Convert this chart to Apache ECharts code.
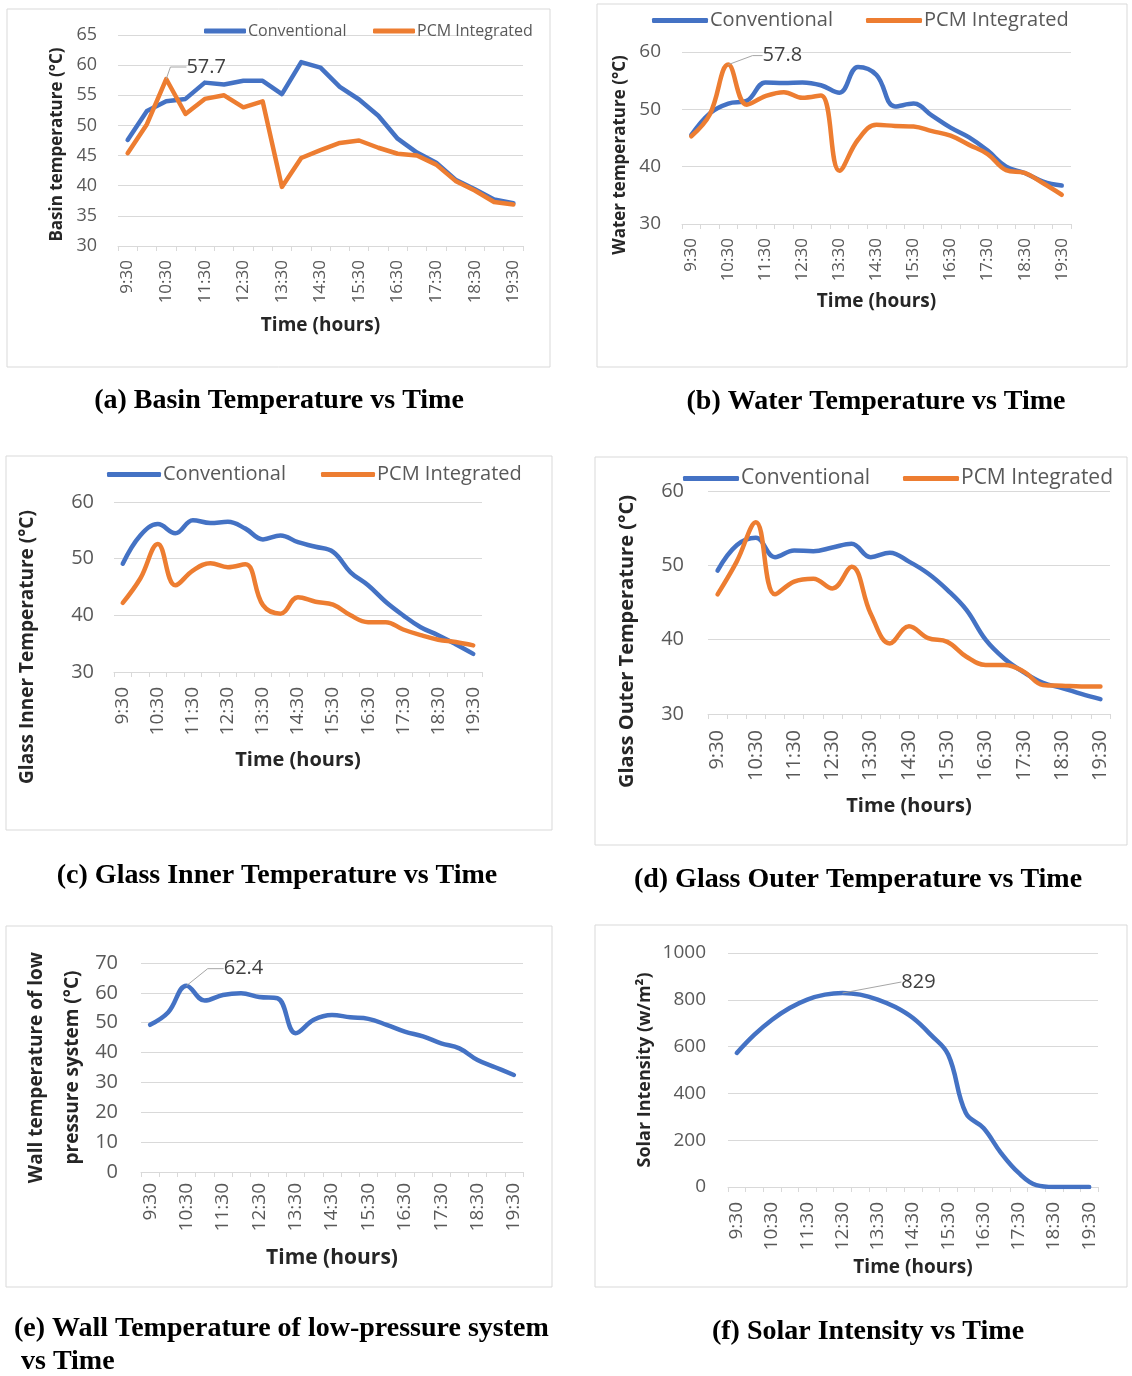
<!DOCTYPE html>
<html>
<head>
<meta charset="utf-8">
<script src="https://cdn.jsdelivr.net/npm/echarts@6/dist/echarts.min.js"></script>
<style>
html,body{margin:0;padding:0;background:#fff;}
#c{width:1132px;height:1376px;}
</style>
</head>
<body>
<div id="c"></div>
<script>
// ---- Data ----
const times = ['9:30','10:00','10:30','11:00','11:30','12:00','12:30','13:00','13:30','14:00','14:30','15:00','15:30','16:00','16:30','17:00','17:30','18:00','18:30','19:00','19:30'];
const seriesNames = ['Conventional', 'PCM Integrated'];

const basinConv = [47.6, 52.4, 54.0, 54.4, 57.1, 56.8, 57.4, 57.4, 55.2, 60.5, 59.6, 56.4, 54.3, 51.6, 47.8, 45.5, 43.8, 41.0, 39.4, 37.7, 37.1];
const basinPCM  = [45.4, 50.2, 57.7, 51.9, 54.4, 55.0, 53.0, 54.0, 39.8, 44.6, 45.9, 47.1, 47.5, 46.3, 45.3, 45.0, 43.5, 40.8, 39.2, 37.3, 36.9];

const waterConv = [45.5, 49.3, 51.0, 51.5, 54.7, 54.6, 54.7, 54.2, 52.9, 57.4, 56.0, 50.5, 51.0, 48.9, 46.8, 45.1, 42.8, 40.0, 38.9, 37.4, 36.7];
const waterPCM  = [45.3, 49.1, 57.8, 50.8, 52.3, 53.0, 52.0, 52.4, 39.3, 44.7, 47.3, 47.1, 47.0, 46.2, 45.4, 43.8, 42.2, 39.4, 38.9, 37.1, 35.1];

const glassInConv = [49.1, 54.1, 56.1, 54.5, 56.8, 56.3, 56.5, 55.3, 53.4, 54.1, 52.9, 52.1, 51.2, 47.6, 45.3, 42.4, 40.0, 37.9, 36.5, 34.9, 33.2];
const glassInPCM  = [42.2, 46.5, 52.6, 45.3, 47.9, 49.2, 48.5, 49.0, 41.8, 40.3, 43.2, 42.4, 41.9, 40.0, 38.8, 38.8, 37.5, 36.5, 35.7, 35.3, 34.7];

const glassOutConv = [49.3, 52.7, 53.7, 51.1, 52.0, 51.9, 52.4, 52.9, 51.1, 51.7, 50.5, 48.9, 46.7, 44.0, 40.0, 37.4, 35.6, 34.2, 33.5, 32.7, 32.0];
const glassOutPCM  = [46.1, 50.5, 55.8, 46.1, 47.8, 48.2, 46.9, 49.8, 43.5, 39.5, 41.8, 40.2, 39.7, 37.7, 36.6, 36.6, 35.7, 33.9, 33.8, 33.7, 33.7];

const wallTemp = [49.3, 53.5, 62.4, 57.4, 59.3, 59.9, 58.6, 58.2, 46.5, 51.0, 52.6, 51.8, 51.3, 49.3, 47.0, 45.4, 43.1, 41.4, 37.5, 35.0, 32.5];

const solar = [573, 651, 715, 765, 801, 822, 829, 822, 801, 769, 722, 651, 565, 316, 252, 145, 60, 8, 0, 0, 0];

const captions = [
  '(a) Basin Temperature vs Time',
  '(b) Water Temperature vs Time',
  '(c) Glass Inner Temperature vs Time',
  '(d) Glass Outer Temperature vs Time',
  '(e) Wall Temperature of low-pressure system',
  ' vs Time',
  '(f) Solar Intensity vs Time'
];

// ---- Styling / layout ----
const BLUE = '#4472C4', ORANGE = '#ED7D31', GRID = '#d9d9d9', TXT = '#595959';
const FONT = 'Open Sans';

const panels = [
  {grid:{left:118,top:35,width:405,height:211}, y:{min:30,max:65,interval:5}, yName:'Basin temperature (°C)', yNameSize:17, yNameGap:52, yShift:8, yLab:18, yMargin:21, xLab:17, xMargin:14, xNameSize:19, xNameGap:70, smooth:false,
   series:[{name:seriesNames[0], data:basinConv, color:BLUE},{name:seriesNames[1], data:basinPCM, color:ORANGE, peak:true, dx:40, dy:3, l2:16}],
   legend:{size:16, items:[{left:204,w:42},{left:373,w:42}], cy:33}},
  {grid:{left:682,top:52,width:389,height:172}, y:{min:30,max:60,interval:10}, yName:'Water temperature (°C)', yNameSize:17, yNameGap:53, yShift:34, yLab:19, yMargin:21, xLab:17, xMargin:14, xNameSize:19, xNameGap:68, smooth:0.4,
   series:[{name:seriesNames[0], data:waterConv, color:BLUE},{name:seriesNames[1], data:waterPCM, color:ORANGE, peak:true, dx:54, dy:6, l2:10}],
   legend:{size:20, items:[{left:652,w:56},{left:866,w:56}], cy:23}},
  {grid:{left:114,top:502,width:368,height:170}, y:{min:30,max:60,interval:10}, yName:'Glass Inner Temperature (°C)', yNameSize:19, yNameGap:77, yShift:120, yLab:20, yMargin:20, xLab:19, xMargin:15, xNameSize:20, xNameGap:78, smooth:0.4,
   series:[{name:seriesNames[0], data:glassInConv, color:BLUE},{name:seriesNames[1], data:glassInPCM, color:ORANGE}],
   legend:{size:20, items:[{left:107,w:54},{left:321,w:54}], cy:477}},
  {grid:{left:708,top:491,width:402,height:223}, y:{min:30,max:60,interval:10}, yName:'Glass Outer Temperature (°C)', yNameSize:20, yNameGap:71, yShift:78, yLab:20, yMargin:24, xLab:20, xMargin:16, xNameSize:20, xNameGap:82, smooth:0.4,
   series:[{name:seriesNames[0], data:glassOutConv, color:BLUE},{name:seriesNames[1], data:glassOutPCM, color:ORANGE}],
   legend:{size:21, items:[{left:683,w:56},{left:903,w:56}], cy:481}},
  {grid:{left:141,top:963,width:382,height:209}, y:{min:0,max:70,interval:10}, yName:'Wall temperature of low\npressure system (°C)', yNameSize:19, yNameLH:36, yNameGap:50, yShift:0, yLab:20, yMargin:23, xLab:19, xMargin:11, xNameSize:21, xNameGap:76, smooth:0.4,
   series:[{name:seriesNames[0], data:wallTemp, color:BLUE, peak:true, dx:57, dy:-2, l2:16}]},
  {grid:{left:728,top:953,width:370,height:234}, y:{min:0,max:1000,interval:200}, yName:'Solar Intensity (w/m²)', yNameSize:18, yNameGap:74, yShift:0, yLab:19, yMargin:22, xLab:19, xMargin:15, xNameSize:19, xNameGap:71, smooth:0.4,
   series:[{name:'Solar Intensity', data:solar, color:BLUE, peak:true, dx:76, dy:4, l2:0}]}
];

const boxes = [
  {x:7,y:9,w:543,h:358},{x:597,y:4,w:530,h:363},
  {x:6,y:456,w:546,h:374},{x:595,y:457,w:532,h:388},
  {x:6,y:926,w:546,h:361},{x:595,y:925,w:532,h:362}
];

const grids=[], xAxes=[], yAxes=[], series=[], legends=[];
panels.forEach((p,i)=>{
  grids.push(Object.assign({containLabel:false}, p.grid));
  xAxes.push({
    type:'category', gridIndex:i, data:times, boundaryGap:true,
    name:'Time (hours)', nameLocation:'middle', nameGap:p.xNameGap,
    nameTextStyle:{fontFamily:FONT, fontWeight:'bold', fontSize:p.xNameSize, color:'#262626'},
    axisLine:{show:true, lineStyle:{color:GRID, width:1}},
    axisTick:{show:true, interval:0, alignWithLabel:false, length:5, lineStyle:{color:GRID}},
    axisLabel:{interval:1, rotate:90, margin:p.xMargin, fontFamily:FONT, fontSize:p.xLab, color:TXT},
    splitLine:{show:false}
  });
  yAxes.push({
    type:'value', gridIndex:i, min:p.y.min, max:p.y.max, interval:p.y.interval,
    name:p.yName, nameLocation:'middle', nameRotate:90, nameGap:p.yNameGap,
    nameTextStyle:{fontFamily:FONT, fontWeight:'bold', fontSize:p.yNameSize, color:'#262626', lineHeight:p.yNameLH||undefined, align:'center', padding:[0,p.yShift,0,0]},
    axisLine:{show:false}, axisTick:{show:false},
    axisLabel:{margin:p.yMargin, fontFamily:FONT, fontSize:p.yLab, color:TXT, formatter:function(v){return String(v);}},
    splitLine:{lineStyle:{color:GRID, width:1}}
  });
  p.series.forEach(s=>{
    const peakIdx = s.peak ? s.data.indexOf(Math.max.apply(null, s.data)) : -1;
    series.push({
      type:'line', name:s.name, xAxisIndex:i, yAxisIndex:i,
      data:s.data.map((v,k)=> k===peakIdx ? {value:v, label:{show:true}, labelLine:{show:true}} : v),
      smooth:p.smooth, symbol:'circle', symbolSize:0.01, showSymbol:s.peak?true:false,
      lineStyle:{color:s.color, width:4.5, cap:'round', join:'round'},
      itemStyle:{color:s.color},
      label:{show:false, position:'top', formatter:'{c}', fontFamily:FONT, fontSize:20, color:'#404040'},
      labelLine:{show:false, length2:s.l2||0, lineStyle:{color:'#a6a6a6', width:1}},
      labelLayout: s.peak ? {dx:s.dx, dy:s.dy} : undefined,
      emphasis:{disabled:true},
      animation:false, z:s.color===ORANGE?3:2
    });
  });
  if (p.legend) {
    p.legend.items.forEach((it,j)=>{
      legends.push({
        data:[seriesNames[j]], left:it.left, top:p.legend.cy - p.legend.size*0.62,
        padding:0, itemWidth:it.w, itemHeight:5, itemGap:0, icon:'roundRect',
        textStyle:{fontFamily:FONT, fontSize:p.legend.size, color:TXT, padding:[0,0,0,-3]},
        selectedMode:false
      });
    });
  }
});

const graphics = [];
boxes.forEach(b=>graphics.push({type:'rect', shape:{x:b.x,y:b.y,width:b.w,height:b.h}, style:{fill:'none', stroke:'#d9d9d9', lineWidth:1}, silent:true, z:-1}));
const capPos = [
  {x:279,y:401,a:'center'},{x:876,y:402,a:'center'},
  {x:277,y:876,a:'center'},{x:858,y:880,a:'center'},
  {x:14,y:1329,a:'left'},{x:14,y:1362,a:'left'},{x:868,y:1332,a:'center'}
];
captions.forEach((t,i)=>{
  graphics.push({type:'text', silent:true, style:{text:t, x:capPos[i].x, y:capPos[i].y, fill:'#000',
    font:'bold 28px "Liberation Serif"', textAlign:capPos[i].a, textVerticalAlign:'middle', align:capPos[i].a, verticalAlign:'middle'}});
});

const chart = echarts.init(document.getElementById('c'), null, {renderer:'canvas'});
chart.setOption({
  animation:false,
  backgroundColor:'#fff',
  grid:grids, xAxis:xAxes, yAxis:yAxes, series:series, legend:legends,
  graphic:graphics
});
</script>
</body>
</html>
